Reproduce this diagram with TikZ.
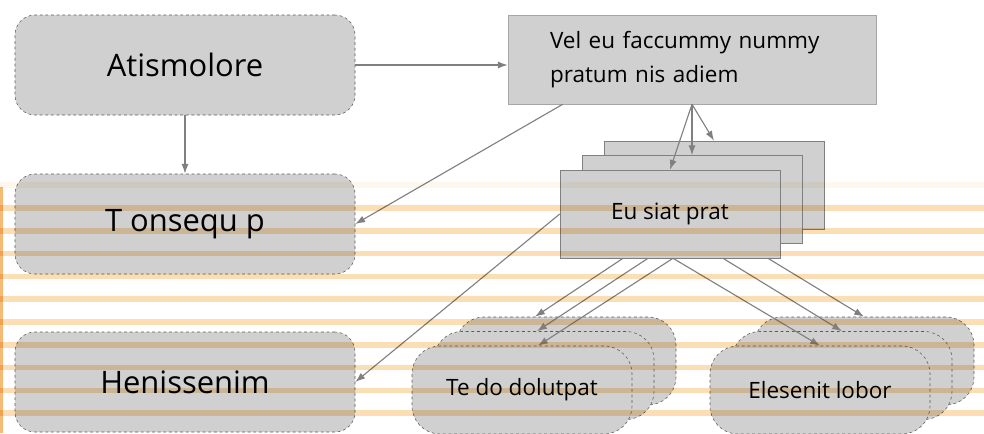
\documentclass[tikz,border=0pt]{standalone}
\usepackage{fontspec}
\setmainfont{Open Sans}
\usepackage{xcolor}
\usetikzlibrary{arrows.meta}

\definecolor{boxgray}{RGB}{208,208,208}
\definecolor{edgegray}{RGB}{90,90,90}
\definecolor{linegray}{RGB}{128,128,128}
\definecolor{stripe}{RGB}{251,222,182}
\definecolor{stripeedge}{RGB}{246,186,116}

\tikzset{
	roundbox/.style={draw=edgegray, dash pattern=on 2pt off 2pt, fill=boxgray, rounded corners=0.5cm, minimum width=8.5cm, minimum height=2.5cm, font=\fontsize{22}{26}\selectfont},
	stackbox/.style={draw=edgegray, dash pattern=on 2pt off 2pt, fill=boxgray, rounded corners=0.7cm, minimum width=5.5cm, minimum height=2.2cm, font=\fontsize{16}{20}\selectfont},
	sheet/.style={draw=linegray, fill=boxgray, minimum width=5.5cm, minimum height=2.2cm, font=\fontsize{16}{20}\selectfont},
	link/.style={draw=linegray, line width=0.8pt, -{Latex[length=7pt,width=5pt]}},
	band/.style={stripe, line width=0.14cm}
}

\begin{document}
\begin{tikzpicture}
		\useasboundingbox (0,0) rectangle (24.6,-10.825);
		% left column
		\node[roundbox] (atis) at (4.625,-1.625) {Atismolore};
		\node[roundbox] (tons) at (4.625,-5.6) {T onsequ p};
		\node[roundbox] (hen) at (4.625,-9.55) {Henissenim};
		% top right
		\node[draw=linegray!70, fill=boxgray, minimum width=9.2cm, minimum height=2.225cm, text width=7.1cm, inner xsep=1.05cm, align=left, font=\fontsize{16}{24}\selectfont] (vel) at (17.3,-1.4875) {Vel eu faccummy nummy\\pratum nis adiem};
		% stacks
		\node[sheet] (eub) at (17.85,-4.625) {};
		\node[sheet] (eum) at (17.3,-4.9875) {};
		\node[sheet] (eu) at (16.75,-5.35) {Eu siat prat};
		\node[stackbox] (teb) at (14.15,-9.025) {};
		\node[stackbox] (tem) at (13.6,-9.3875) {};
		\node[stackbox] (te) at (13.05,-9.75) {Te do dolutpat};
		\node[stackbox] (eleb) at (21.6,-9.025) {};
		\node[stackbox] (elem) at (21.05,-9.3875) {};
		\node[stackbox] (ele) at (20.5,-9.75) {Elesenit lobor};
		% links
		\draw[link] (atis) -- (tons);
		\draw[link] (atis.east) -- (atis.east -| vel.west);
		\draw[link] ([xshift=1.375cm]vel.south west) -- (tons.east);
		\draw[link] (vel.south) -- (eu.north);
		\draw[link] (vel.south) -- (eum.north);
		\draw[link] (vel.south) -- (eub.north);
		\draw[link] (eu.west) -- (hen.east);
		\draw[link] ([xshift=-1.175cm]eu.south) -- ([xshift=-0.775cm]teb.north);
		\draw[link] ([xshift=-0.55cm]eu.south) -- ([xshift=-0.175cm]tem.north);
		\draw[link] ([xshift=0.075cm]eu.south) -- ([xshift=0.4cm]te.north);
		\draw[link] ([xshift=0.075cm]eu.south) -- (ele.north);
		\draw[link] ([xshift=1.325cm]eu.south) -- (elem.north);
		\draw[link] ([xshift=2.45cm]eu.south) -- (eleb.north);
		% stripes
		\begin{scope}[blend mode=multiply]
		\draw[band, opacity=0.25] (0,-4.625) -- (24.6,-4.625);
		\draw[band] (0,-5.2) -- (24.6,-5.2);
		\draw[band] (0,-5.77) -- (24.6,-5.77);
		\draw[band] (0,-6.34) -- (24.6,-6.34);
		\draw[band] (0,-6.91) -- (24.6,-6.91);
		\draw[band] (0,-7.48) -- (24.6,-7.48);
		\draw[band] (0,-8.05) -- (24.6,-8.05);
		\draw[band] (0,-8.62) -- (24.6,-8.62);
		\draw[band] (0,-9.19) -- (24.6,-9.19);
		\draw[band] (0,-9.76) -- (24.6,-9.76);
		\draw[band] (0,-10.33) -- (24.6,-10.33);
		\draw[stripeedge, line width=0.075cm] (0.04,-4.675) -- (0.04,-10.825);
		\end{scope}
	\end{tikzpicture}
\end{document}
